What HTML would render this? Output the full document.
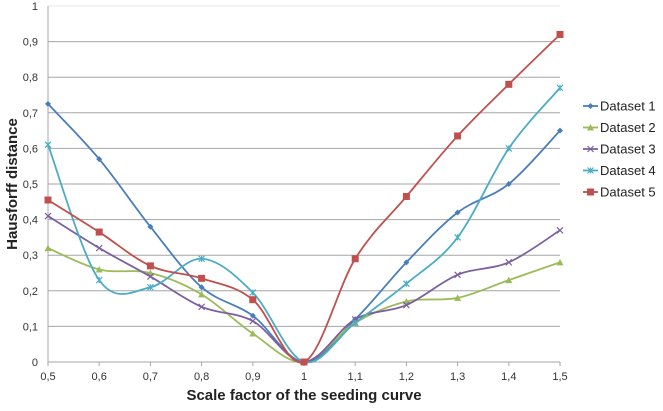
<!DOCTYPE html>
<html><head><meta charset="utf-8"><style>
body{margin:0;background:#fff;font-family:"Liberation Sans",sans-serif}
svg text{font-family:"Liberation Sans",sans-serif}
</style></head><body>
<svg id="c" width="663" height="406" xmlns="http://www.w3.org/2000/svg"></svg>
<script>
const categories=[0.5,0.6,0.7,0.8,0.9,1,1.1,1.2,1.3,1.4,1.5];
const xTickLabels=["0,5","0,6","0,7","0,8","0,9","1","1,1","1,2","1,3","1,4","1,5"];
const yTickValues=[0,0.1,0.2,0.3,0.4,0.5,0.6,0.7,0.8,0.9,1];
const yTickLabels=["0","0,1","0,2","0,3","0,4","0,5","0,6","0,7","0,8","0,9","1"];
const seriesNames=["Dataset 1","Dataset 2","Dataset 3","Dataset 4","Dataset 5"];
const dataset1=[0.725,0.57,0.38,0.21,0.13,0,0.12,0.28,0.42,0.5,0.65];
const dataset2=[0.32,0.26,0.25,0.19,0.08,0,0.11,0.17,0.18,0.23,0.28];
const dataset3=[0.41,0.32,0.24,0.155,0.115,0,0.12,0.16,0.245,0.28,0.37];
const dataset4=[0.61,0.23,0.21,0.29,0.195,0,0.11,0.22,0.35,0.6,0.77];
const dataset5=[0.455,0.365,0.27,0.235,0.175,0,0.29,0.465,0.635,0.78,0.92];
const series=[dataset1,dataset2,dataset3,dataset4,dataset5];
const colors=["#4a7ebb","#9bbb59","#7d60a0","#4bacc6","#c0504d"];
const markers=["diamond","triangle","x","star","square"];
const svg=document.getElementById('c');
const NS="http://www.w3.org/2000/svg";
const X0=48,X1=560,Y0=362,Y1=6;
const xs=v=>X0+(v-0.5)/1.0*(X1-X0);
const ys=v=>Y0-v*(Y0-Y1);
function mk(t,a,p){const e=document.createElementNS(NS,t);for(const k in a)e.setAttribute(k,a[k]);(p||svg).appendChild(e);return e;}
yTickValues.forEach((v,i)=>{
 const l=mk('line',{x1:X0,x2:X1,y1:ys(v),y2:ys(v),stroke:i==yTickValues.length-1?'#e4e4e4':'#a6a6a6','stroke-width':1});
 
 
 const t=mk('text',{x:X0-10,y:ys(v)+4,'text-anchor':'end','font-size':11,fill:'#333'});t.textContent=yTickLabels[i];
 
 
});
const ax=mk('line',{x1:X0,x2:X0,y1:Y1,y2:Y0,stroke:'#a6a6a6'});


categories.forEach((c,i)=>{
 mk('line',{x1:xs(c),x2:xs(c),y1:Y0,y2:Y0+4,stroke:'#a6a6a6'});
 const t=mk('text',{x:xs(c),y:Y0+18,'text-anchor':'middle','font-size':11,fill:'#333'});t.textContent=xTickLabels[i];
 
 
});
const xt=mk('text',{x:304,y:400,'text-anchor':'middle','font-size':15,'font-weight':'bold',fill:'#222'});xt.textContent="Scale factor of the seeding curve";


const yt=mk('text',{x:0,y:0,'text-anchor':'middle','font-size':15,'font-weight':'bold',fill:'#222',transform:'translate(17,184) rotate(-90)'});yt.textContent="Hausforff distance";


function pathFor(vals){
 const p=vals.map((v,i)=>[xs(categories[i]),ys(v)]);
 let d=`M${p[0][0]},${p[0][1]}`;
 for(let i=0;i<p.length-1;i++){
  const a=p[i-1]||p[i],b=p[i],c=p[i+1],e=p[i+2]||c;
  const k=1/6;
  d+=` C${b[0]+(c[0]-a[0])*k},${b[1]+(c[1]-a[1])*k} ${c[0]-(e[0]-b[0])*k},${c[1]-(e[1]-b[1])*k} ${c[0]},${c[1]}`;
 }
 return d;
}
function marker(type,x,y,col,g){
 let e;
 if(type=='diamond')e=mk('polygon',{points:`${x},${y-3} ${x+3},${y} ${x},${y+3} ${x-3},${y}`,fill:col},g);
 else if(type=='triangle')e=mk('polygon',{points:`${x},${y-3.5} ${x+3.5},${y+3} ${x-3.5},${y+3}`,fill:col},g);
 else if(type=='square')e=mk('rect',{x:x-3.5,y:y-3.5,width:7,height:7,fill:col},g);
 else if(type=='x')e=mk('path',{d:`M${x-3},${y-3}L${x+3},${y+3}M${x-3},${y+3}L${x+3},${y-3}`,stroke:col,'stroke-width':1.2},g);
 else e=mk('path',{d:`M${x-3},${y-3}L${x+3},${y+3}M${x-3},${y+3}L${x+3},${y-3}M${x},${y-3}L${x},${y+3}`,stroke:col,'stroke-width':1.2},g);
 
 
}
series.forEach((vals,s)=>{
 const g=mk('g',{});
 
 
 const pth=mk('path',{d:pathFor(vals),fill:'none',stroke:colors[s],'stroke-width':1.8},g);
 
 
 vals.forEach((v,i)=>marker(markers[s],xs(categories[i]),ys(v),colors[s],g));
 const lg=mk('g',{});
 
 
 const ly=106+s*21.5;
 mk('line',{x1:583,x2:598,y1:ly,y2:ly,stroke:colors[s],'stroke-width':1.8},lg);
 marker(markers[s],590.5,ly,colors[s],lg);
 const t=mk('text',{x:600,y:ly+4.5,'font-size':13,fill:'#222'},lg);t.textContent=seriesNames[s];
});
</script>
</body></html>
